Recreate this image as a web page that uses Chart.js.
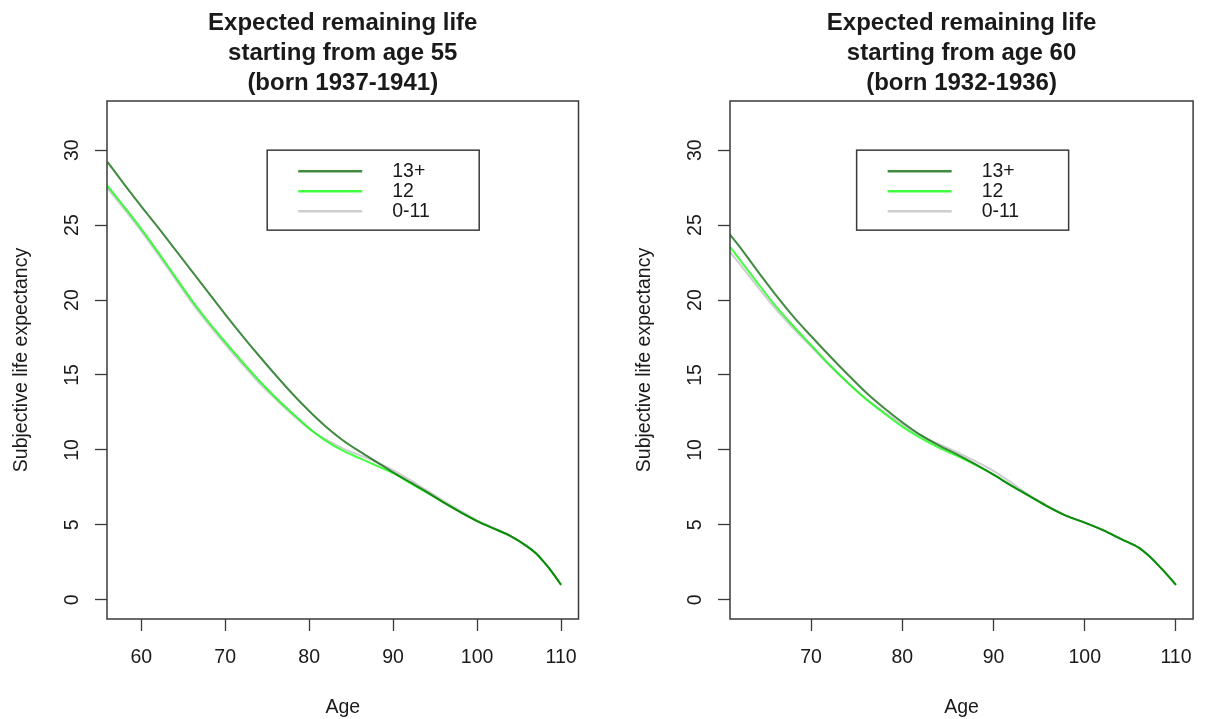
<!DOCTYPE html>
<html>
<head>
<meta charset="utf-8">
<script src="https://cdn.jsdelivr.net/npm/chart.js@4.4.1/dist/chart.umd.min.js"></script>
<style>
  html, body { margin: 0; padding: 0; background: #fff; overflow: hidden; width: 1207px; height: 719px; }
  canvas { position: absolute; top: 0; }
  #left { left: 0; }
  #right { left: 623px; }
</style>
</head>
<body>
<canvas id="left" width="603" height="719"></canvas>
<canvas id="right" width="584" height="719"></canvas>
<script>
// education groups
var groups = ["13+", "12", "0-11"];

// panel 1: starting from age 55
var ages55 = [56, 58, 60, 62, 64, 66, 68, 70, 72, 74, 76, 78, 80, 82, 84, 86, 88, 90, 92, 94, 96, 98, 100, 102, 104, 106, 107, 108, 109, 110];
var life13_55 = [29.2, 27.7, 26.25, 24.85, 23.4, 21.95, 20.5, 19.05, 17.65, 16.3, 15.0, 13.75, 12.6, 11.55, 10.65, 9.9, 9.2, 8.5, 7.85, 7.2, 6.5, 5.85, 5.25, 4.75, 4.25, 3.55, 3.1, 2.5, 1.8, 1.0];
var life12_55 = [27.6, 26.2, 24.75, 23.2, 21.6, 20.0, 18.55, 17.2, 15.9, 14.65, 13.5, 12.45, 11.45, 10.6, 9.95, 9.45, 8.95, 8.45, 7.8, 7.15, 6.5, 5.85, 5.25, 4.75, 4.25, 3.55, 3.1, 2.5, 1.8, 1.0];
var life011_55 = [27.45, 26.05, 24.6, 23.05, 21.45, 19.85, 18.4, 17.05, 15.75, 14.5, 13.4, 12.35, 11.4, 10.7, 10.1, 9.65, 9.2, 8.65, 8.0, 7.3, 6.6, 5.95, 5.3, 4.8, 4.25, 3.55, 3.1, 2.5, 1.8, 1.0];

// panel 2: starting from age 60
var ages60 = [61, 62, 64, 66, 68, 70, 72, 74, 76, 78, 80, 82, 84, 86, 88, 90, 92, 94, 96, 98, 100, 102, 104, 106, 107, 108, 109, 110];
var life13_60 = [24.45, 23.7, 22.05, 20.45, 18.95, 17.6, 16.3, 15.05, 13.85, 12.8, 11.85, 11.0, 10.3, 9.7, 9.05, 8.35, 7.6, 6.9, 6.2, 5.6, 5.15, 4.65, 4.05, 3.45, 2.95, 2.35, 1.7, 1.0];
var life12_60 = [23.65, 22.85, 21.25, 19.7, 18.3, 17.0, 15.7, 14.5, 13.4, 12.45, 11.55, 10.8, 10.15, 9.6, 9.0, 8.35, 7.6, 6.9, 6.2, 5.6, 5.15, 4.65, 4.05, 3.45, 2.95, 2.35, 1.7, 1.0];
var life011_60 = [23.3, 22.55, 21.0, 19.5, 18.15, 16.9, 15.65, 14.5, 13.45, 12.55, 11.7, 10.95, 10.4, 9.85, 9.25, 8.6, 7.8, 6.95, 6.25, 5.6, 5.15, 4.65, 4.05, 3.45, 2.95, 2.35, 1.7, 1.0];

var title55 = ["Expected remaining life", "starting from age 55", "(born 1937-1941)"];
var title60 = ["Expected remaining life", "starting from age 60", "(born 1932-1936)"];

var xlim55 = [58, 110];
var xlim60 = [63, 110];
var ylim = [0, 32];
var legendAt = [75, 30];

var colors = ['rgba(0,100,0,0.75)', 'rgba(0,255,0,0.75)', 'rgba(190,190,190,0.75)'];
var ink = '#1a1a1a';
var axisCol = '#3a3a3a';

Chart.defaults.font.family = '"Liberation Sans", Arial, Helvetica, sans-serif';
Chart.defaults.color = ink;

function points(xs, ys) {
    return xs.map(function (x, i) { return { x: x, y: ys[i] }; });
}

// R style: 4% padding around the limits
function expand(lim) {
    var d = (lim[1] - lim[0]) * 0.04;
    return [lim[0] - d, lim[1] + d];
}

var boxPlugin = {
    id: 'plotBox',
    afterDraw: function (chart) {
        var a = chart.chartArea, ctx = chart.ctx;
        ctx.save();
        ctx.strokeStyle = axisCol;
        ctx.lineWidth = 1.5;
        ctx.strokeRect(a.left, a.top, a.right - a.left, a.bottom - a.top);

        // legend box anchored at data coords like R's legend(x, y)
        var lx = chart.scales.x.getPixelForValue(legendAt[0]);
        var ly = chart.scales.y.getPixelForValue(legendAt[1]);
        ctx.strokeRect(lx, ly, 212, 80);
        ctx.font = '19.5px "Liberation Sans", Arial, sans-serif';
        ctx.textBaseline = 'middle';
        ctx.fillStyle = ink;
        groups.forEach(function (g, i) {
            var yy = ly + 21 + i * 20;
            ctx.strokeStyle = colors[i];
            ctx.lineWidth = 2.5;
            ctx.beginPath();
            ctx.moveTo(lx + 31, yy);
            ctx.lineTo(lx + 95, yy);
            ctx.stroke();
            ctx.fillText(g, lx + 125, yy);
        });
        ctx.restore();
    }
};

function panel(id, title, ages, s13, s12, s011, xlim, padRight) {
    var xr = expand(xlim), yr = expand(ylim);
    var series = [s13, s12, s011];
    return new Chart(document.getElementById(id), {
        type: 'line',
        data: {
            datasets: series.map(function (s, i) {
                return {
                    label: groups[i],
                    data: points(ages, s),
                    borderColor: colors[i],
                    borderWidth: 2,
                    pointRadius: 0,
                    fill: false,
                    cubicInterpolationMode: 'monotone'
                };
            })
        },
        options: {
            responsive: false,
            animation: false,
            devicePixelRatio: 1,
            layout: { padding: { left: 0, right: padRight, top: 0, bottom: 0 } },
            plugins: {
                legend: { display: false },
                tooltip: { enabled: false },
                title: {
                    display: true,
                    text: title,
                    fullSize: false,
                    color: ink,
                    font: { size: 24, weight: 'bold', lineHeight: 1.25 },
                    padding: { top: 8, bottom: 3 }
                }
            },
            scales: {
                x: {
                    type: 'linear',
                    min: xr[0],
                    max: xr[1],
                    afterFit: function (s) { s.height = 100; },
                    border: { display: false },
                    grid: { drawOnChartArea: false, drawTicks: true, tickLength: 12, tickColor: axisCol, tickWidth: 1.3 },
                    ticks: { stepSize: 10, includeBounds: false, maxRotation: 0, padding: 15, color: ink, font: { size: 19.5 } },
                    title: { display: true, text: 'Age', color: ink, font: { size: 19.5 }, padding: { top: 0, bottom: 0 } }
                },
                y: {
                    type: 'linear',
                    min: yr[0],
                    max: yr[1],
                    afterFit: function (s) { s.width = 107; },
                    border: { display: false },
                    grid: { drawOnChartArea: false, drawTicks: true, tickLength: 12, tickColor: axisCol, tickWidth: 1.3 },
                    ticks: { stepSize: 5, includeBounds: false, minRotation: 90, maxRotation: 90, crossAlign: 'center', padding: 12, color: ink, font: { size: 19.5 } },
                    title: { display: true, text: 'Subjective life expectancy', color: ink, font: { size: 19.5 }, padding: { top: 10, bottom: 0 } }
                }
            }
        },
        plugins: [boxPlugin]
    });
}

panel('left', title55, ages55, life13_55, life12_55, life011_55, xlim55, 24.5);
panel('right', title60, ages60, life13_60, life12_60, life011_60, xlim60, 5.5);
</script>
</body>
</html>
